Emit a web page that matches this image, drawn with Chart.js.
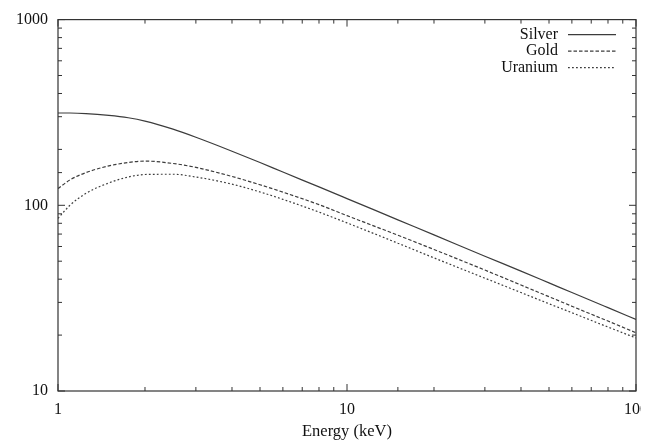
<!DOCTYPE html>
<html>
<head>
<meta charset="utf-8">
<script src="https://cdn.jsdelivr.net/npm/chart.js@4.4.0/dist/chart.umd.min.js"></script>
<style>
    html, body { margin: 0; padding: 0; background: #fff; overflow: hidden; }
    #clip { width: 641px; height: 446px; overflow: hidden; }
    #wrap { width: 657px; height: 446px; }
</style>
</head>
<body>
<div id="clip"><div id="wrap"><canvas id="chart" width="657" height="446"></canvas></div></div>
<script>
// Data (log-log)
const energy  = [1, 1.1, 1.25, 1.5, 1.75, 2, 2.5, 3, 4, 5, 6, 8, 10, 15, 20, 30, 40, 50, 60, 80, 100];
const silver  = [314, 314, 312, 305, 296, 284, 257, 232.5, 195.6, 170, 151, 125.6, 108.7, 83.5, 69.3, 53.2, 44.2, 38.2, 33.9, 28.1, 24.3];
const gold    = [123, 137, 150, 163, 170, 173, 168, 160, 143, 129, 117.8, 100.8, 88, 69, 57.8, 44.8, 37.2, 32.2, 28.6, 23.8, 20.6];
const uranium = [85, 100, 116, 132, 142, 146.5, 147, 142, 130, 118, 107.7, 91.9, 80.4, 62.5, 52.1, 40.5, 33.9, 29.5, 26.4, 22.1, 19.3];

const xTickLabels = ['1', '10', '100'];
const yTickLabels = ['10', '100', '1000'];

const lineColor = '#3c3c3c';
const serif = "'Liberation Serif', 'DejaVu Serif', serif";

function toPoints(ys) {
    return energy.map((e, i) => ({ x: e, y: ys[i] }));
}

function isDecade(v) {
    const l = Math.log10(v);
    return Math.abs(l - Math.round(l)) < 1e-6;
}

// gnuplot style frame with inward ticks on all four sides
const framePlugin = {
    id: 'frame',
    afterDatasetsDraw(chart) {
        const { ctx, chartArea: a, scales } = chart;
        ctx.save();
        ctx.strokeStyle = '#333';
        ctx.lineWidth = 1.2;
        ctx.strokeRect(a.left, a.top, a.right - a.left, a.bottom - a.top);
        ctx.lineWidth = 1;
        ctx.beginPath();
        scales.x.ticks.forEach(t => {
            const px = scales.x.getPixelForValue(t.value);
            const len = isDecade(t.value) ? 7 : 4;
            ctx.moveTo(px, a.bottom); ctx.lineTo(px, a.bottom - len);
            ctx.moveTo(px, a.top); ctx.lineTo(px, a.top + len);
        });
        scales.y.ticks.forEach(t => {
            const py = scales.y.getPixelForValue(t.value);
            const len = isDecade(t.value) ? 7 : 4;
            ctx.moveTo(a.left, py); ctx.lineTo(a.left + len, py);
            ctx.moveTo(a.right, py); ctx.lineTo(a.right - len, py);
        });
        ctx.stroke();
        ctx.restore();
    }
};

// key in the top right corner, text right aligned before the line sample
const keyPlugin = {
    id: 'key',
    afterDraw(chart) {
        const { ctx, chartArea: a } = chart;
        ctx.save();
        ctx.font = '16px ' + serif;
        ctx.textAlign = 'right';
        ctx.textBaseline = 'middle';
        chart.data.datasets.forEach((ds, i) => {
            const y = a.top + 15 + i * 16.5;
            ctx.fillStyle = '#111';
            ctx.fillText(ds.label, a.right - 78, y);
            ctx.strokeStyle = ds.borderColor;
            ctx.lineWidth = ds.borderWidth;
            ctx.setLineDash(ds.borderDash || []);
            ctx.beginPath();
            ctx.moveTo(a.right - 68, y);
            ctx.lineTo(a.right - 20, y);
            ctx.stroke();
        });
        ctx.restore();
    }
};

new Chart(document.getElementById('chart'), {
    type: 'line',
    data: {
        datasets: [
            { label: 'Silver', data: toPoints(silver), borderDash: [] },
            { label: 'Gold', data: toPoints(gold), borderDash: [3.5, 2] },
            { label: 'Uranium', data: toPoints(uranium), borderDash: [1.8, 2.2] }
        ].map(ds => Object.assign(ds, {
            borderColor: lineColor,
            borderWidth: 1.2,
            pointRadius: 0,
            fill: false,
            cubicInterpolationMode: 'monotone'
        }))
    },
    options: {
        responsive: false,
        animation: false,
        layout: { padding: { top: 14, right: 20, left: 0, bottom: 0 } },
        plugins: {
            legend: { display: false },
            tooltip: { enabled: false }
        },
        scales: {
            x: {
                type: 'logarithmic',
                min: 1,
                max: 100,
                grid: { display: false, drawTicks: false },
                border: { display: false },
                ticks: {
                    autoSkip: false,
                    maxRotation: 0,
                    padding: 9,
                    color: '#111',
                    font: { family: serif, size: 16 },
                    callback: v => xTickLabels.includes(String(v)) ? String(v) : ''
                },
                title: {
                    display: true,
                    text: 'Energy (keV)',
                    color: '#111',
                    font: { family: serif, size: 16.5 },
                    padding: { top: 4 }
                },
                afterFit: s => { s.height = 55; }
            },
            y: {
                type: 'logarithmic',
                min: 10,
                max: 1000,
                grid: { display: false, drawTicks: false },
                border: { display: false },
                ticks: {
                    autoSkip: false,
                    padding: 10,
                    color: '#111',
                    font: { family: serif, size: 16 },
                    callback: v => yTickLabels.includes(String(v)) ? String(v) : ''
                },
                afterFit: s => { s.width = 58; }
            }
        }
    },
    plugins: [framePlugin, keyPlugin]
});
</script>
</body>
</html>
